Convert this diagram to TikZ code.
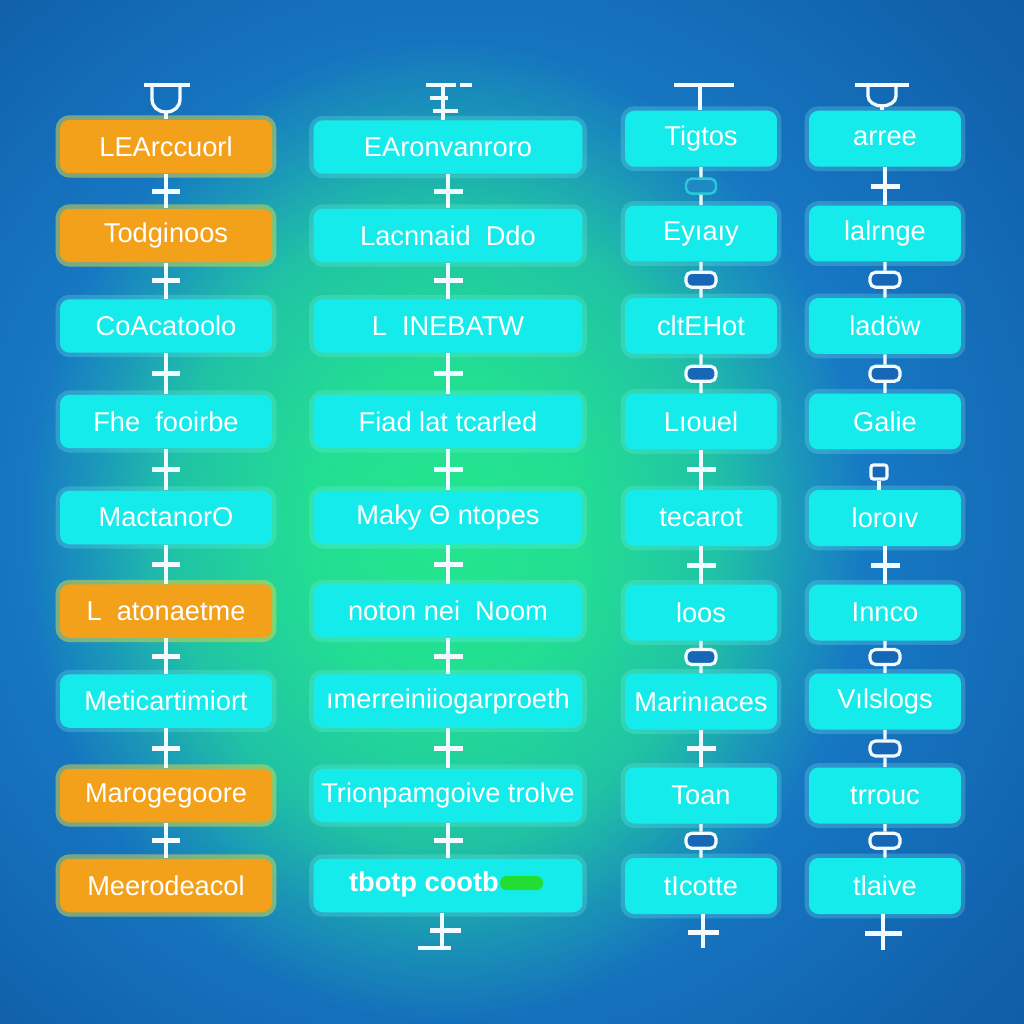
\documentclass[tikz,border=0pt]{standalone}
\usepackage{fontspec}
\setmainfont{Liberation Sans}
\usetikzlibrary{calc,fadings}
\definecolor{bgdark}{HTML}{083C86}
\definecolor{bgmid}{HTML}{1A84D0}
\definecolor{glow}{HTML}{24E68E}
\definecolor{boxcyan}{HTML}{16EBEB}
\definecolor{boxorange}{HTML}{F3A11A}
\definecolor{linkfill}{HTML}{1668B6}
\definecolor{linkteal}{HTML}{2CC8DA}
\definecolor{wire}{HTML}{F2FBFF}
\definecolor{blob}{HTML}{22DD33}
\pgfdeclareradialshading{bgshade}{\pgfpoint{-4bp}{0bp}}{color(0bp)=(bgmid); color(14bp)=(bgmid); color(34bp)=(bgdark!50!bgmid); color(72bp)=(bgdark)}
\pgfdeclareradialshading{glowmask}{\pgfpoint{0bp}{0bp}}{color(0bp)=(white); color(8bp)=(white!92!black); color(16bp)=(white!65!black); color(21bp)=(white!25!black); color(25bp)=(black); color(50bp)=(black)}
\pgfdeclarefading{softglow}{\pgfuseshading{glowmask}}
\newcommand\pconn[2]{%
  \draw[wire] (#1.south) -- (#2.north);
  \node[crossbar] (#1-#2) at ($(#1.south)!0.5!(#2.north)$) {};}
\newcommand\lconn[3][link]{%
  \node[#1] (#2-#3) at ($(#2.south)!0.5!(#3.north)$) {};
  \draw[wire] (#2.south) -- (#2-#3.north) (#2-#3.south) -- (#3.north);}
\begin{document}
\begin{tikzpicture}[x=0.02cm, y=-0.02cm,
  box/.style={rounded corners=0.19cm, minimum height=1.07cm, inner sep=0pt, text=white,
    font=\fontsize{15.5}{17}\selectfont, fill=boxcyan,
    preaction={draw=boxcyan!60!white, draw opacity=0.25, line width=5pt}},
  obox/.style={box, fill=boxorange, preaction={draw=boxorange!60!yellow, draw opacity=0.4, line width=5pt}},
  w1/.style={minimum width=4.24cm},
  w2/.style={minimum width=5.38cm},
  w3/.style={minimum width=3.04cm, minimum height=1.12cm},
  wire/.style={draw=wire, line width=1.9pt},
  bar/.style={draw=wire, line width=2.8pt},
  crossbar/.style={fill=wire, minimum width=0.58cm, minimum height=0.1cm, inner sep=0pt},
  link/.style={draw=wire, fill=linkfill, rounded corners=0.11cm, minimum width=0.6cm, minimum height=0.3cm, line width=1.8pt, inner sep=0pt},
  tlink/.style={link, draw=linkteal, fill=linkteal!35!linkfill, line width=1.4pt},
  sq/.style={draw=wire, fill=linkfill, rounded corners=0.05cm, minimum width=0.32cm, minimum height=0.28cm, line width=1.8pt, inner sep=0pt}
]
\useasboundingbox (0,0) rectangle (1024,1024);
\begin{scope}
\clip (0,0) rectangle (1024,1024);
\shade[shading=bgshade] (0,0) rectangle (1024,1024);
\fill[glow, path fading=softglow, fit fading=true] (445-420,530-490) rectangle (445+420,530+490);
\end{scope}

% column 1
\node[obox, w1] (a1) at (166,146.5) {LEArccuorl};
\node[obox, w1] (a2) at (166,235.5) {Todginoos};
\node[box, w1] (a3) at (166,326) {CoAcatoolo};
\node[box, w1] (a4) at (166,421.5) {Fhe\ \ fooirbe};
\node[box, w1] (a5) at (166,517.5) {MactanorO};
\node[obox, w1] (a6) at (166,611) {L\ \ atonaetme};
\node[box, w1] (a7) at (166,701) {Meticartimiort};
\node[obox, w1] (a8) at (166,795.5) {Marogegoore};
\node[obox, w1] (a9) at (166,885.5) {Meerodeacol};

% column 2
\node[box, w2] (b1) at (448,147) {EAronvanroro};
\node[box, w2] (b2) at (448,235.5) {Lacnnaid\ \ Ddo};
\node[box, w2] (b3) at (448,326) {L\ \ INEBATW};
\node[box, w2] (b4) at (448,421.5) {Fiad lat tcarled};
\node[box, w2] (b5) at (448,517.5) {Maky Θ ntopes};
\node[box, w2] (b6) at (448,611) {noton nei\ \ Noom};
\node[box, w2] (b7) at (448,701) {ımerreiniiogarproeth};
\node[box, w2] (b8) at (448,795.5) {Trionpamgoive trolve};
\node[box, w2] (b9) at (448,885.5) {};
\node[text=white, font=\fontsize{15.5}{17}\selectfont\bfseries, anchor=east] (b9t) at (505,884) {tbotp cootb};
\fill[blob, rounded corners=0.13cm] (500,876) rectangle (543,890);

% column 3
\node[box, w3] (c1) at (701,138.7) {Tigtos};
\node[box, w3] (c2) at (701,233.5) {Eyıaıy};
\node[box, w3] (c3) at (701,326) {cltEHot};
\node[box, w3] (c4) at (701,421.5) {Lıouel};
\node[box, w3] (c5) at (701,518) {tecarot};
\node[box, w3] (c6) at (701,612.5) {loos};
\node[box, w3] (c7) at (701,701.5) {Marinıaces};
\node[box, w3] (c8) at (701,795.5) {Toan};
\node[box, w3] (c9) at (701,886) {tIcotte};

% column 4
\node[box, w3] (d1) at (885,138.7) {arree};
\node[box, w3] (d2) at (885,233.5) {lalrnge};
\node[box, w3] (d3) at (885,326) {ladöw};
\node[box, w3] (d4) at (885,421.5) {Galie};
\node[box, w3] (d5) at (885,518) {loroıv};
\node[box, w3] (d6) at (885,612.5) {Innco};
\node[box, w3] (d7) at (885,701.5) {Vılslogs};
\node[box, w3] (d8) at (885,795.5) {trrouc};
\node[box, w3] (d9) at (885,886) {tlaive};

% connectors column 1 and 2
\foreach \c in {a,b}{
  \foreach \i [evaluate=\i as \j using int(\i+1)] in {1,...,8}{
    \pconn{\c\i}{\c\j}
  }
}
% column 3
\lconn[tlink]{c1}{c2}
\lconn{c2}{c3}
\lconn{c3}{c4}
\pconn{c4}{c5}
\pconn{c5}{c6}
\lconn{c6}{c7}
\pconn{c7}{c8}
\lconn{c8}{c9}
% column 4
\pconn{d1}{d2}
\lconn{d2}{d3}
\lconn{d3}{d4}
\node[sq] (d4-d5) at (879,472) {};
\draw[wire] (d4-d5.south) -- (d4-d5.south |- d5.north);
\pconn{d5}{d6}
\lconn{d6}{d7}
\lconn{d7}{d8}
\lconn{d8}{d9}

% top fittings
\coordinate (a0) at (166,112);
\draw[wire] (a0) -- (a1.north);
\draw[bar] (144,85) -- (190,85);
\draw[wire] (152,85) -- (152,99) .. controls (152,107) and (158,112) .. (a0) .. controls (174,112) and (180,107) .. (180,99) -- (180,85);

\coordinate (b0) at (443,85);
\draw[wire] (b0) -- (b0 |- b1.north);
\draw[bar] (426,85) -- (456,85);
\draw[bar] (460,85) -- (472,85);
\draw[bar] (430,98) -- (448,98);
\draw[bar] (433,111) -- (458,111);

\coordinate (c0) at (700,85);
\draw[wire] (c0) -- (c0 |- c1.north);
\draw[bar] (674,85) -- (734,85);

\coordinate (d0) at (882,106);
\draw[wire] (d0) -- (d0 |- d1.north);
\draw[bar] (855,85) -- (909,85);
\draw[wire] (868,85) -- (868,96) .. controls (868,102) and (875,106) .. (d0) .. controls (889,106) and (896,102) .. (896,96) -- (896,85);

% bottom fittings
\coordinate (b10) at (442,948);
\draw[wire] (b10 |- b9.south) -- (b10);
\node[crossbar, minimum width=0.62cm] (b9x) at (445,930) {};
\draw[bar] (418,948) -- (451,948);

\coordinate (c10) at (703,948);
\draw[wire] (c10 |- c9.south) -- (c10);
\node[crossbar, minimum width=0.62cm] (c9x) at (703,932) {};

\coordinate (d10) at (883,950);
\draw[wire] (d10 |- d9.south) -- (d10);
\node[crossbar, minimum width=0.74cm] (d9x) at (883,933) {};
\end{tikzpicture}
\end{document}
